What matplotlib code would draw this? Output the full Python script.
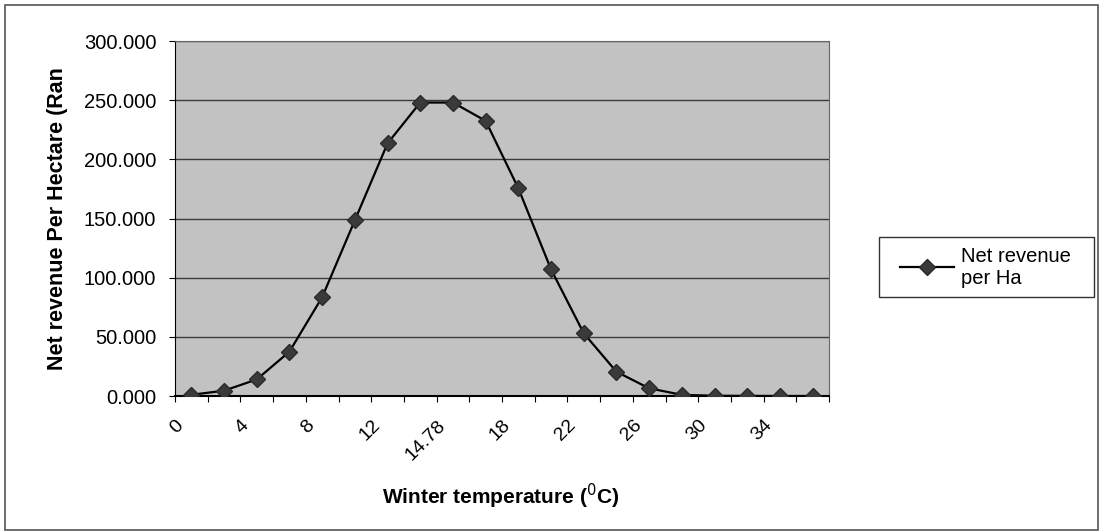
import matplotlib
matplotlib.use("Agg")
import matplotlib.pyplot as plt
from matplotlib.patches import Rectangle

categories = ["0", "2", "4", "6", "8", "10", "12", "14", "14.78", "16",
              "18", "20", "22", "24", "26", "28", "30", "32", "34", "36"]
net_revenue = [1.0, 4.5, 14.0, 37.5, 83.5, 148.5, 213.5, 248.0, 248.0, 232.5,
               175.5, 107.0, 53.0, 20.5, 6.5, 1.0, 0.2, 0.1, 0.0, 0.0]
y_ticks = [0, 50, 100, 150, 200, 250, 300]
y_tick_labels = ["0.000", "50.000", "100.000", "150.000", "200.000", "250.000", "300.000"]

plt.rcParams['font.family'] = ['Liberation Sans', 'DejaVu Sans']

W, H = 1105, 532
fig = plt.figure(figsize=(W / 100, H / 100), dpi=100)
fig.patch.set_facecolor("white")

# chart-area border
fig.patches.append(Rectangle((5 / W, 1 - 530 / H), (1098 - 5) / W, (530 - 5) / H,
                             transform=fig.transFigure, fill=False,
                             edgecolor="#555555", linewidth=1.2))

left, right, top, bottom = 175, 829, 41, 396
ax = fig.add_axes([left / W, 1 - bottom / H, (right - left) / W, (bottom - top) / H])
ax.set_facecolor("#c2c2c2")

x = list(range(len(categories)))
ax.plot(x, net_revenue, color="black", linewidth=1.6, marker="D",
        markersize=8, markerfacecolor="#3a3a3a", markeredgecolor="#2a2a2a",
        label="Net revenue\nper Ha", zorder=3)

ax.set_xlim(-0.5, len(categories) - 0.5)
ax.set_ylim(0, 300)
ax.set_yticks(y_ticks)
ax.set_yticklabels(y_tick_labels, fontsize=14.5)
ax.yaxis.grid(True, color="#3a3a3a", linewidth=1.0)
ax.set_axisbelow(True)

# tick marks between categories; rotated labels every other category,
# anchored slightly left of the category centre as in the original
ax.xaxis.remove_overlapping_locs = False
ax.set_xticks([i - 0.5 for i in range(len(categories) + 1)], minor=False)
ax.set_xticklabels([])
label_pos = [i - 0.5 for i in x[::2]]
ax.set_xticks(label_pos, minor=True)
ax.set_xticklabels(categories[::2], minor=True, rotation=45, ha="right",
                   rotation_mode="anchor", fontsize=14)
ax.tick_params(axis="x", which="minor", length=0, pad=15)
ax.tick_params(axis="x", which="major", length=4.5, direction="out", color="black")
ax.tick_params(axis="y", length=4.5, direction="out", color="black", pad=9)

for side in ["top", "right"]:
    ax.spines[side].set_color("#666666")
ax.spines["left"].set_color("black")
ax.spines["bottom"].set_color("black")
ax.spines["bottom"].set_linewidth(1.5)

ax.set_ylabel("Net revenue Per Hectare (Ran", fontsize=15.5, fontweight="bold")
ax.yaxis.set_label_coords(-0.163, 0.5)
ax.set_xlabel("Winter temperature ($^{0}$C)", fontsize=15, fontweight="bold")
ax.xaxis.set_label_coords(0.498, -0.242)

# legend: frame drawn separately to match the original's padding
fig.patches.append(Rectangle((879 / W, 1 - 297 / H), (1094 - 879) / W, (297 - 237) / H,
                             transform=fig.transFigure, facecolor="white",
                             edgecolor="#333333", linewidth=1.0, zorder=4))
leg = fig.legend(loc="center left", bbox_to_anchor=(900 / W, 1 - 267 / H),
                 fontsize=14.5, frameon=False, handlelength=2.7,
                 borderpad=0.0, handletextpad=0.35, borderaxespad=0.0)
leg.set_zorder(5)

fig.savefig("out.png", dpi=100, facecolor="white")
